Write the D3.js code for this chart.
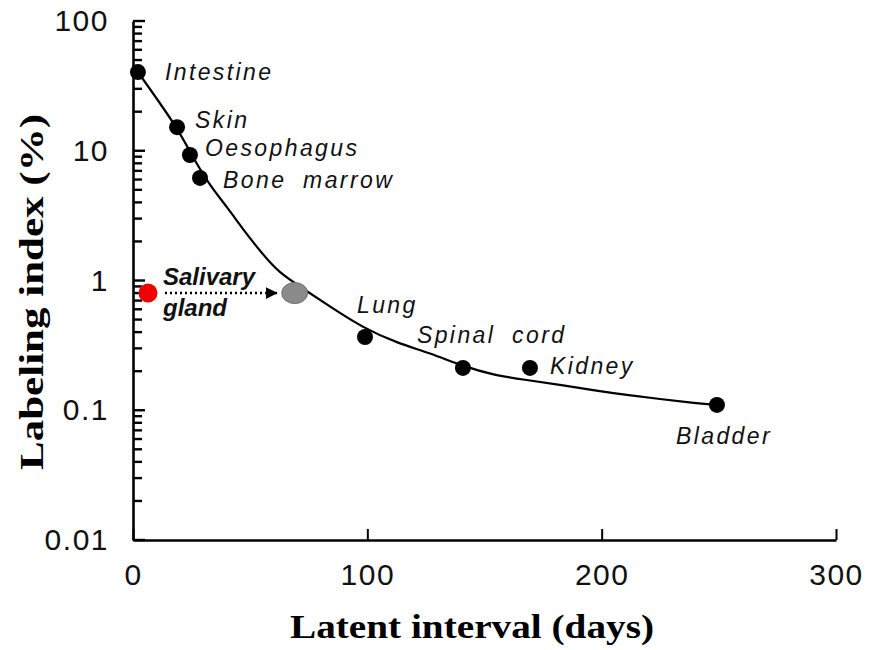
<!DOCTYPE html>
<html>
<head>
<meta charset="utf-8">
<script src="https://cdn.jsdelivr.net/npm/d3@7"></script>
<style>
  body { margin: 0; background: #fff; }
  .tick text { font-family: "Liberation Sans", Arial, sans-serif; font-size: 30px; letter-spacing: 1.5px; fill: #111; }
  .lbl { font-family: "Liberation Sans", Arial, sans-serif; font-style: italic; font-size: 23px; letter-spacing: 2.4px; word-spacing: 8px; fill: #111; }
  .title { font-family: "Liberation Serif", "Times New Roman", serif; font-weight: bold; font-size: 34px; fill: #000; }
</style>
</head>
<body>
<div id="chart"></div>
<script>
// tissues: latent interval (days) vs labeling index (%)
var tissues = ['Intestine', 'Skin', 'Oesophagus', 'Bone marrow', 'Lung', 'Spinal cord', 'Kidney', 'Bladder']
var latentDays = [2.1, 18.8, 24.3, 28.6, 99, 140.8, 169.4, 249.2]
var labelIndex = [40.4, 15.2, 9.27, 6.17, 0.367, 0.212, 0.212, 0.110]

// fitted curve
var curveDays = [2.1, 18.8, 24.3, 32, 40.5, 47.8, 55, 61.9, 73.4, 84.1, 98.2, 112.7, 126.7, 140.8, 153.6, 168.1, 182.2, 196.3, 210.8, 224.9, 239, 249.2]
var curveIndex = [40.4, 15.2, 9.78, 5.64, 3.62, 2.36, 1.63, 1.16, 0.846, 0.628, 0.431, 0.330, 0.276, 0.219, 0.187, 0.171, 0.157, 0.143, 0.131, 0.122, 0.114, 0.110]

// salivary gland: measured value and its place on the curve
var salivary = {name: ['Salivary', 'gland'], day: 6.4, index: 0.80, curveDay: 69}

var xTicks = [0, 100, 200, 300]
var yMajor = [0.01, 0.1, 1, 10, 100]

var width = 871, height = 650

// label offsets (px) from each point
var labelPos = {
  'Intestine': [27, 8], 'Skin': [18, 1], 'Oesophagus': [15, 1], 'Bone marrow': [23, 10],
  'Lung': [-8, -24], 'Spinal cord': [-46, -25], 'Kidney': [20, 6], 'Bladder': [-41, 39]
}

var svg = d3.select('#chart').append('svg')
  .attr('width', width)
  .attr('height', height)

var x = d3.scaleLinear().domain([0, 300]).range([133, 836])
var y = d3.scaleLog().domain([0.01, 100]).range([540, 21])

var yTickVals = []
yMajor.forEach(function(d, i) {
  if (i < yMajor.length - 1) {
    for (var k = 1; k < 10; k++) yTickVals.push(+(d * k).toPrecision(3))
  } else yTickVals.push(d)
})

var isMajor = function(d) { return yMajor.indexOf(d) >= 0 }

// labels only on decades
var yAxis = d3.axisLeft(y)
  .tickValues(yMajor)
  .tickSize(0)
  .tickPadding(24)
  .tickFormat(d3.format('~g'))

var gy = svg.append('g')
  .attr('transform', 'translate(' + x(0) + ',0)')
  .call(yAxis)
gy.select('.domain').attr('stroke-width', 2.6)

// inward ticks, minor ones shorter
svg.append('g')
  .selectAll('line')
  .data(yTickVals)
  .enter()
  .append('line')
  .attr('x1', x(0))
  .attr('x2', function(d) { return x(0) + (isMajor(d) ? 12 : 9) })
  .attr('y1', d => y(d))
  .attr('y2', d => y(d))
  .attr('stroke', '#000')
  .attr('stroke-width', 2.4)

var xAxis = d3.axisBottom(x)
  .tickValues(xTicks)
  .tickSizeInner(-11)
  .tickSizeOuter(0)
  .tickPadding(24)
  .tickFormat(d3.format('d'))

var gx = svg.append('g')
  .attr('transform', 'translate(0,' + y(0.01) + ')')
  .call(xAxis)
gx.select('.domain').attr('stroke-width', 2.6)
gx.selectAll('.tick line').attr('stroke-width', 2)

// curve
var curvePts = curveDays.map(function(d, i) { return [x(d), y(curveIndex[i])] })
svg.append('path')
  .attr('d', d3.line().curve(d3.curveBasis)(curvePts))
  .attr('fill', 'none')
  .attr('stroke', '#000')
  .attr('stroke-width', 2.2)

// tissue points
svg.selectAll('.dot')
  .data(tissues)
  .enter()
  .append('circle')
  .attr('class', 'dot')
  .attr('cx', function(d, i) { return x(latentDays[i]) })
  .attr('cy', function(d, i) { return y(labelIndex[i]) })
  .attr('r', 8)
  .attr('fill', '#000')

svg.selectAll('.lbl-t')
  .data(tissues)
  .enter()
  .append('text')
  .attr('class', 'lbl')
  .attr('x', function(d, i) { return x(latentDays[i]) + labelPos[d][0] })
  .attr('y', function(d, i) { return y(labelIndex[i]) + labelPos[d][1] })
  .text(function(d) { return d })

// salivary gland arrow
svg.append('defs').append('marker')
  .attr('id', 'arrow')
  .attr('viewBox', '0 0 10 10')
  .attr('refX', 10).attr('refY', 5)
  .attr('markerWidth', 5).attr('markerHeight', 5)
  .attr('orient', 'auto')
  .append('path')
  .attr('d', 'M0,0L10,5L0,10Z')
  .attr('fill', '#000')

svg.append('line')
  .attr('x1', x(salivary.day) + 17)
  .attr('x2', x(salivary.curveDay) - 17)
  .attr('y1', y(salivary.index))
  .attr('y2', y(salivary.index))
  .attr('stroke', '#000')
  .attr('stroke-width', 2.4)
  .attr('stroke-dasharray', '2,3')
  .attr('marker-end', 'url(#arrow)')

svg.append('ellipse')
  .attr('cx', x(salivary.curveDay))
  .attr('cy', y(salivary.index))
  .attr('rx', 13)
  .attr('ry', 10.5)
  .attr('fill', '#8a8a8a')
  .attr('stroke', '#6f6f6f')
  .attr('stroke-width', 1)

svg.append('circle')
  .attr('cx', x(salivary.day))
  .attr('cy', y(salivary.index))
  .attr('r', 9.5)
  .attr('fill', '#ee0000')

svg.selectAll('.sal')
  .data(salivary.name)
  .enter()
  .append('text')
  .attr('x', x(salivary.day) + 15)
  .attr('y', function(d, i) { return y(salivary.index) - 8 + i * 31 })
  .style('font-family', '"Liberation Sans", Arial, sans-serif')
  .style('font-weight', 'bold')
  .style('font-style', 'italic')
  .style('font-size', '24px')
  .attr('fill', '#111')
  .text(function(d) { return d })

// axis titles
svg.append('text')
  .attr('class', 'title')
  .attr('x', 290)
  .attr('y', 638)
  .attr('textLength', 364)
  .attr('lengthAdjust', 'spacingAndGlyphs')
  .text('Latent interval (days)')

svg.append('text')
  .attr('class', 'title')
  .attr('transform', 'translate(43,470) rotate(-90)')
  .attr('textLength', 356)
  .attr('lengthAdjust', 'spacingAndGlyphs')
  .text('Labeling index (%)')
</script>
</body>
</html>
